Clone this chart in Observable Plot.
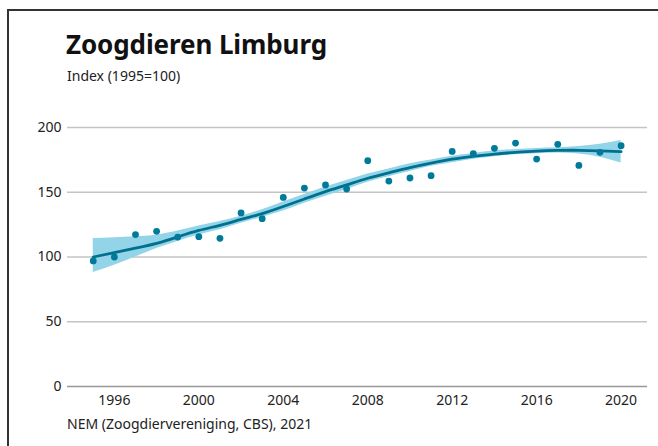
<!DOCTYPE html>
<html>
<head>
<meta charset="utf-8">
<script src="https://cdn.jsdelivr.net/npm/d3@7"></script>
<script src="https://cdn.jsdelivr.net/npm/@observablehq/plot@0.6"></script>
<style>
  html, body { margin: 0; padding: 0; background: #fff; }
  body { width: 658px; height: 446px; position: relative; overflow: hidden; font-family: "Noto Sans", sans-serif; }
  #frame { position: absolute; left: 7px; top: 9px; width: 660px; height: 450px; border-top: 2px solid #333; border-left: 2px solid #333; z-index: 5; pointer-events: none; }
  #title { position: absolute; left: 66px; top: 26px; font-size: 26px; font-weight: 700; color: #111; letter-spacing: -0.1px; }
  #subtitle { position: absolute; left: 67px; top: 66px; font-size: 14px; color: #222; }
  #chart { position: absolute; left: 0; top: 100px; }
  #caption { position: absolute; left: 67px; top: 414px; font-size: 14px; color: #222; }
</style>
</head>
<body>
<div id="frame"></div>
<div id="title">Zoogdieren Limburg</div>
<div id="subtitle">Index (1995=100)</div>
<div id="chart"></div>
<div id="caption">NEM (Zoogdiervereniging, CBS), 2021</div>
<script>
const years = [1995,1996,1997,1998,1999,2000,2001,2002,2003,2004,2005,2006,2007,2008,2009,2010,2011,2012,2013,2014,2015,2016,2017,2018,2019,2020];
const observed = [97,100,117.3,119.8,115.4,115.7,114.4,134,129.6,146,153.2,155.6,152.5,174.4,158.6,161,162.8,181.5,179.8,183.9,188,175.6,187,170.7,180.8,185.9];
const trend = [100,103.3,106.8,110.5,115.5,120.5,124.5,129,133.5,139,144.8,150.5,155.7,160.8,165,169,172.5,175.5,177.7,179.5,180.8,181.8,182.3,182.4,182,181.3];
const lower = [88,93.6,100,106.5,112,117,121,126,130.5,135.5,141.5,147,152.2,157.8,162,166,170,172.8,175.5,177.5,179,179.8,180.3,179.5,177,172.5];
const upper = [114.2,114.8,115.6,116.8,120,124,127.5,131.5,136.5,142.5,148.2,154,159,164,168,172,175,177.8,180,181.8,183,183.8,184.3,185.3,187,190];
const yTicks = [0,50,100,150,200];
const xTicks = [1996,2000,2004,2008,2012,2016,2020];

const rows = years.map((year, i) => ({year, value: observed[i], trend: trend[i], lower: lower[i], upper: upper[i]}));

const chart = Plot.plot({
  width: 658,
  height: 320,
  marginLeft: 67,
  marginRight: 11,
  marginTop: 27,
  marginBottom: 34,
  style: {fontFamily: "Noto Sans, sans-serif", fontSize: "14px", color: "#222", background: "transparent"},
  x: {domain: [1993.78, 2021.25]},
  y: {domain: [0, 200]},
  marks: [
    Plot.ruleY(yTicks.filter(d => d > 0), {stroke: "#c4c4c4", strokeWidth: 1.5}),
    Plot.ruleY([0], {stroke: "#999", strokeWidth: 1.5}),
    Plot.areaY(rows, {x: "year", y1: "lower", y2: "upper", fill: "#93d4e9", fillOpacity: 1, curve: "monotone-x"}),
    Plot.line(rows, {x: "year", y: "trend", stroke: "#00708e", strokeWidth: 2.8, curve: "natural"}),
    Plot.dot(rows, {x: "year", y: "value", r: 3.4, fill: "#007a9a", stroke: "none"}),
    Plot.axisY({ticks: yTicks, tickSize: 0, tickPadding: 6, label: null, fontSize: 14}),
    Plot.axisX({ticks: xTicks, tickSize: 0, tickPadding: 9, label: null, tickFormat: d => String(d), fontSize: 14})
  ]
});
document.getElementById("chart").appendChild(chart);
</script>
</body>
</html>
